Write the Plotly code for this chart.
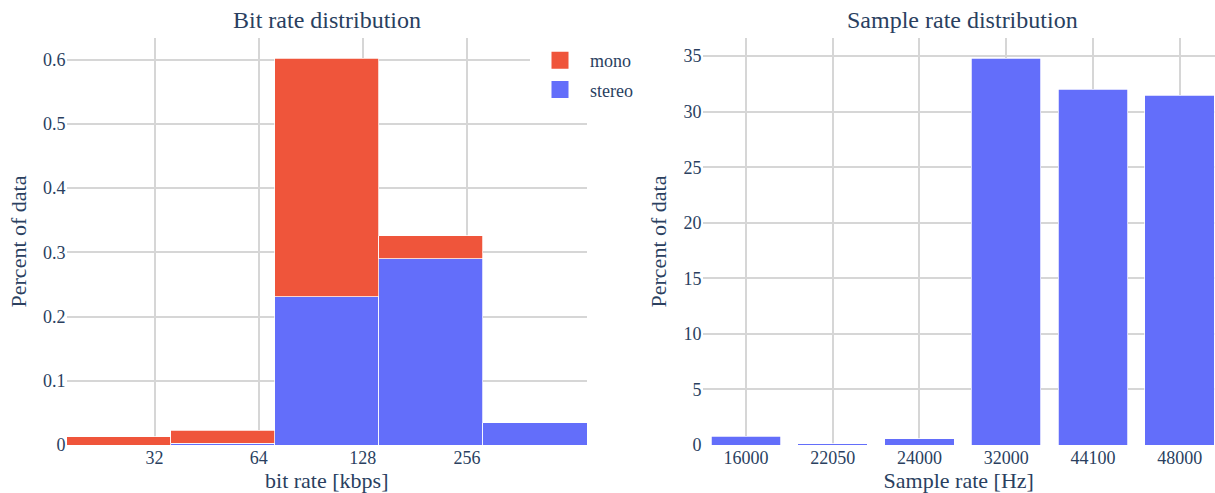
import numpy as np
import plotly.graph_objects as go

# Bit-rate histogram (fraction of files per octave-wide bin)
bin_edges_kbps = [17.8, 35.6, 71.2, 142.4, 284.8, 569.6]
stereo_share = [0.0, 0.003, 0.231, 0.290, 0.035]
mono_share = [0.0127, 0.020, 0.371, 0.0356, 0.0]
bitrate_ticks = [32, 64, 128, 256]

# Sample-rate distribution (percent of files)
sample_rates = ["16000", "22050", "24000", "32000", "44100", "48000"]
sample_pct = [0.80, 0.12, 0.57, 34.80, 32.02, 31.50]

TEXT = "#2a3f5f"
GRID = "#d6d6d6"
RED = "#EF553B"
BLUE = "#636EFA"
FONT = "Liberation Serif, 'Times New Roman', Times, serif"
W, H = 1215, 493

log_edges = np.log2(bin_edges_kbps)
centers = (log_edges[:-1] + log_edges[1:]) / 2
widths = np.diff(log_edges)
edge = dict(color="white", width=0.75)

fig = go.Figure()
fig.add_trace(go.Bar(x=centers, y=stereo_share, width=widths, name="stereo",
                     marker=dict(color=BLUE, line=edge), showlegend=False,
                     legendgroup="stereo", xaxis="x", yaxis="y"))
fig.add_trace(go.Bar(x=centers, y=mono_share, width=widths, name="mono",
                     marker=dict(color=RED, line=edge), showlegend=False,
                     legendgroup="mono", xaxis="x", yaxis="y"))
fig.add_trace(go.Bar(x=sample_rates, y=sample_pct, name="sample rate", showlegend=False,
                     marker=dict(color=BLUE, line=edge), xaxis="x2", yaxis="y2"))

# legend entries with larger swatches
for name, col in [("mono", RED), ("stereo", BLUE)]:
    fig.add_trace(go.Bar(x=[None], y=[None], name=name, legendgroup=name,
                         marker=dict(color=col, line=dict(color=col, width=6)),
                         xaxis="x", yaxis="y"))

x1_dom = [66.5 / W, 587.0 / W]
x2_dom = [702.5 / W, 1.0]
# second panel is cut at the right edge of the page
step2 = 520.5 / 6
x2_hi = 5.5 - (702.5 + 520.5 - W) / step2

axis_common = dict(showgrid=True, gridcolor=GRID, gridwidth=1.5, zeroline=True,
                   zerolinecolor="white", showline=False, ticks="",
                   automargin=False, color=TEXT)

fig.update_layout(
    width=W, height=H,
    margin=dict(l=0, r=0, t=38, b=48),
    barmode="stack", bargap=0.2,
    paper_bgcolor="white", plot_bgcolor="white",
    font=dict(family=FONT, size=18, color=TEXT),
    xaxis=dict(domain=x1_dom, anchor="y", range=[log_edges[0], log_edges[-1]],
               tickvals=np.log2(bitrate_ticks), ticktext=[str(t) for t in bitrate_ticks],
               title=dict(text="bit rate [kbps]"), **axis_common),
    yaxis=dict(domain=[0, 1], anchor="x", autorange=True, rangemode="tozero",
               dtick=0.1, title=dict(text="Percent of data", standoff=10), **axis_common),
    xaxis2=dict(domain=x2_dom, anchor="y2", type="category", range=[-0.5, x2_hi],
                title=dict(text="Sample rate [Hz]"), **axis_common),
    yaxis2=dict(domain=[0, 1], anchor="x2", autorange=True, rangemode="tozero",
                dtick=5, title=dict(text="Percent of data", standoff=10), **axis_common),
    legend=dict(x=530 / W, y=1 - 4 / 407, xanchor="left", yanchor="top", bgcolor="white",
                traceorder="grouped", tracegroupgap=3, itemwidth=50,
                font=dict(size=18)),
    annotations=[
        dict(text="Bit rate distribution", x=(x1_dom[0] + x1_dom[1]) / 2, y=1,
             xref="paper", yref="paper", xanchor="center", yanchor="bottom",
             showarrow=False, yshift=3, font=dict(size=24)),
        dict(text="Sample rate distribution", x=(702.5 + 1223) / 2 / W, y=1,
             xref="paper", yref="paper", xanchor="center", yanchor="bottom",
             showarrow=False, yshift=3, font=dict(size=24)),
    ],
)

fig.write_html("out.html")
